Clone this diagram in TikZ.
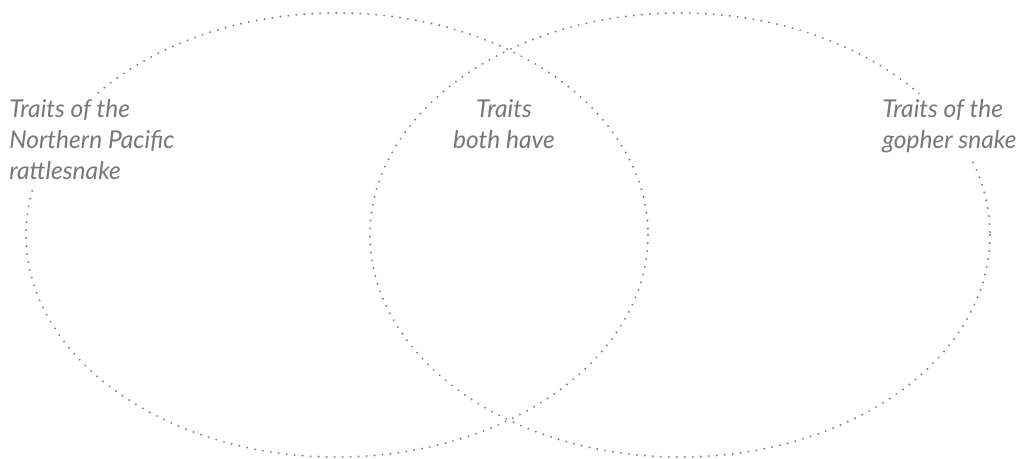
\documentclass[tikz,border=0pt]{standalone}
\usepackage{fontspec}
\setmainfont{Lato}
\definecolor{dotgray}{HTML}{7E7E82}
\definecolor{textgray}{HTML}{76767B}
\tikzset{
	ring/.style={draw=dotgray,line width=1.6pt,line cap=round,dash pattern=on 0pt off 6pt},
	trait/.style={fill=white,inner sep=4pt,text=textgray,font=\fontsize{18.4}{23.3}\selectfont\itshape}
}
\begin{document}
\begin{tikzpicture}[x=0.75pt,y=-0.75pt]
	\useasboundingbox[fill=white] (0,0) rectangle (1024,458);
	\draw[ring] (337,235) ellipse [x radius=311, y radius=222];
	\draw[ring] (680,235) ellipse [x radius=310, y radius=222];
	\node[trait,align=left,anchor=north west] (rattler) at (3.7,94) {Traits of the\\Northern Pacific\\rattlesnake};
	\node[trait,align=center,anchor=north] (both) at (504,94) {Traits\\both have};
	\node[trait,align=left,anchor=north west] (gopher) at (876.7,94) {Traits of the\\gopher snake};
\end{tikzpicture}
\end{document}
